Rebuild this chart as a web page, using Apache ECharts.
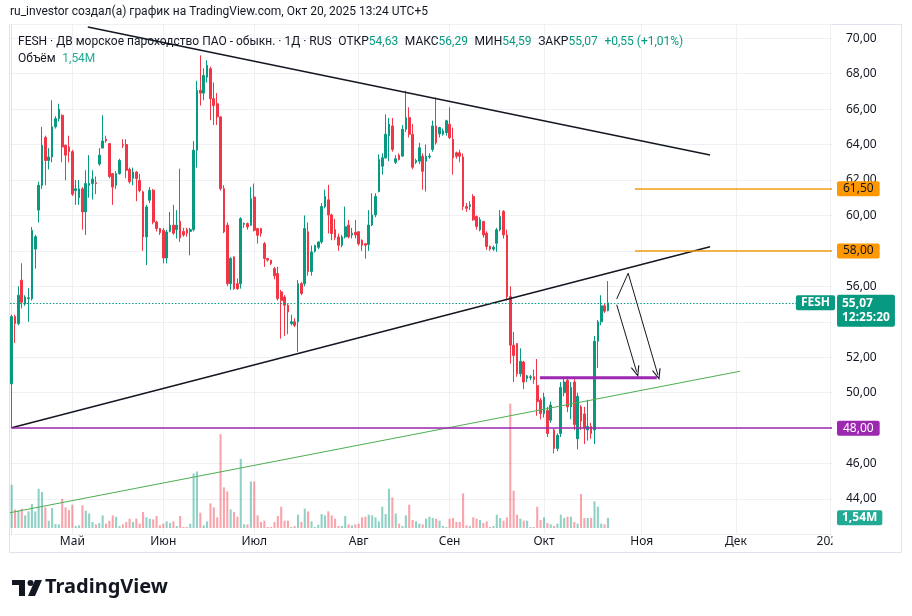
<!DOCTYPE html>
<html>
<head>
<meta charset="utf-8">
<script src="https://cdn.jsdelivr.net/npm/echarts@6/dist/echarts.min.js"></script>
<style>
  html, body { margin: 0; padding: 0; background: #fff; }
  #main { width: 912px; height: 616px; }
</style>
</head>
<body>
<div id="main"></div>
<script>
// свечи FESH, 1Д: [откр, закр, мин, макс]
var ohlc = [
  [50.5,54.3,48.0,54.4],[54.3,53.9,52.8,54.4],[53.9,55.5,53.8,56.0],[56.35,55.1,54.75,57.3],[55.0,55.4,54.9,55.5],
  [55.3,55.35,54.0,55.9],[55.3,59.16,55.2,59.35],[58.1,58.8,57.0,58.9],[60.3,61.7,59.6,61.9],[61.7,63.96,61.5,65.0],
  [64.4,63.1,61.7,64.5],[63.1,63.3,62.6,63.8],[63.3,65.0,63.0,66.5],[65.0,65.46,64.9,65.6],[65.46,66.0,65.3,66.3],
  [65.65,63.86,63.0,65.7],[63.96,63.4,61.98,64.0],[63.86,63.6,63.0,64.5],[63.6,61.2,61.1,63.7],[61.4,61.5,60.6,62.0],
  [61.0,61.5,60.6,62.0],[61.5,60.2,59.2,61.6],[60.2,61.8,58.9,62.55],[61.7,61.8,61.0,63.4],[61.8,62.05,60.9,62.55],
  [61.85,61.8,61.2,62.2],[62.9,63.4,62.8,63.8],[63.8,64.2,63.8,65.65],[64.3,64.2,64.1,64.5],[64.05,62.2,62.1,64.1],
  [62.36,61.6,60.6,62.4],[61.7,62.36,61.5,62.5],[62.36,63.1,62.3,63.2],[64.0,63.95,63.8,64.3],[64.0,62.55,62.1,64.3],
  [62.6,61.9,61.8,62.7],[62.1,62.45,61.7,62.7],[62.45,62.08,60.8,62.5],[61.98,61.4,61.3,62.35],[61.33,58.79,58.0,61.4],
  [58.79,60.48,57.2,60.6],[60.86,61.42,60.7,61.6],[61.42,59.63,59.5,61.5],[59.63,59.26,59.1,59.7],[59.26,59.03,58.9,59.3],
  [59.16,57.6,57.3,59.3],[57.6,59.07,57.3,59.2],[59.1,59.45,59.05,60.2],[59.45,59.0,58.9,60.6],[59.2,59.45,58.7,60.3],
  [59.67,58.73,58.5,62.64],[59.1,58.9,58.8,59.3],[59.2,59.0,58.8,59.3],[59.1,59.2,57.75,59.3],[59.2,63.68,59.1,64.2],
  [63.68,67.06,62.7,67.6],[67.06,66.9,66.2,69.03],[66.9,67.9,66.5,68.3],[67.8,68.47,67.5,68.75],[68.28,66.59,65.37,68.4],
  [66.59,66.2,65.1,67.5],[66.3,65.56,65.1,66.9],[65.56,61.51,61.4,65.6],[61.51,59.07,59.0,61.7],[59.45,56.15,56.0,59.6],
  [56.15,57.57,55.8,57.65],[57.66,55.87,55.8,57.7],[56.15,55.87,55.8,56.45],[56.15,59.82,55.87,59.9],[59.5,59.55,59.3,59.6],
  [59.54,59.35,59.2,59.6],[59.45,60.95,59.4,61.6],[61.04,59.16,59.1,61.8],[59.26,58.88,58.41,59.3],[59.26,58.98,58.8,59.3],
  [58.41,57.57,57.1,58.5],[57.57,57.48,57.4,57.6],[57.47,57.28,57.2,57.5],[57.0,56.6,56.4,57.1],[56.72,55.31,55.2,57.1],
  [55.69,55.2,53.05,55.8],[55.4,54.93,53.2,55.5],[54.93,54.56,53.3,55.0],[53.9,54.0,53.8,54.4],[54.0,53.8,53.7,54.2],
  [54.0,56.15,52.3,56.35],[56.15,55.6,55.5,56.25],[56.15,59.26,56.0,60.0],[59.08,56.84,56.6,59.6],[56.84,57.94,56.6,58.3],
  [57.98,58.3,57.9,58.35],[58.2,58.5,58.1,58.55],[58.5,60.5,58.4,60.7],[60.5,61.07,60.4,61.45],[60.88,60.03,58.98,61.73],
  [60.03,58.98,58.6,60.1],[59.2,58.75,58.6,59.8],[58.79,58.32,58.0,58.98],[58.32,58.79,58.2,58.9],[58.79,59.36,58.7,60.5],
  [59.46,58.79,58.7,59.75],[58.9,59.0,58.7,59.3],[59.05,58.9,58.7,59.75],[59.08,58.4,58.3,59.1],[58.6,58.32,58.0,58.65],
  [58.4,58.32,57.56,58.45],[58.36,59.46,58.0,60.3],[59.46,60.03,59.4,61.25],[60.03,61.07,59.9,61.25],[61.35,63.16,61.3,63.44],
  [62.78,63.25,62.3,63.5],[63.25,64.58,63.2,65.7],[64.5,65.15,63.06,65.5],[65.05,63.72,63.6,65.5],[63.0,63.2,62.9,63.4],
  [63.4,63.15,63.1,63.5],[63.35,64.86,63.3,65.1],[64.86,65.52,64.7,67.04],[65.52,64.58,64.4,66.1],[64.58,62.72,62.6,65.15],
  [63.0,63.1,62.9,63.2],[63.06,63.82,62.9,64.1],[63.34,62.49,61.45,63.5],[63.06,63.34,61.35,64.0],[63.3,63.35,63.2,63.5],
  [63.72,65.05,63.6,65.35],[65.05,64.1,64.0,66.66],[64.6,64.96,64.4,65.0],[64.58,64.77,64.5,64.9],[64.67,65.34,64.5,65.4],
  [65.15,64.39,64.3,66.1],[64.3,63.25,62.3,64.96],[63.53,63.34,63.2,63.6],[63.53,63.34,63.0,63.7],[63.3,60.5,60.3,63.5],
  [60.5,60.4,60.2,60.7],[60.5,60.6,60.3,60.8],[61.07,59.75,59.7,61.2],[59.94,59.38,59.2,60.0],[59.19,59.75,59.1,59.9],
  [59.66,58.9,58.75,59.7],[59.0,58.25,58.06,59.1],[58.25,58.1,58.0,58.3],[58.1,58.2,58.0,58.3],[58.43,59.19,57.95,59.3],
  [59.19,59.94,59.1,60.3],[60.23,58.9,58.7,60.3],[58.9,55.42,55.2,59.2],[55.42,52.68,51.64,56.0],[52.68,52.1,50.6,53.43],
  [52.77,51.07,50.9,52.8],[51.07,51.77,50.9,52.5],[51.73,50.6,50.2,51.8],[50.8,50.95,50.6,51.0],[50.85,50.9,50.7,51.0],
  [50.9,50.75,50.5,51.3],[50.4,49.5,48.7,51.9],[49.58,48.83,48.5,49.7],[48.83,49.75,48.6,50.0],[49.0,47.7,47.5,49.2],
  [48.45,49.3,48.3,49.5],[47.9,46.85,46.57,48.0],[46.85,47.6,46.7,47.7],[47.7,50.3,47.5,50.6],[50.0,50.6,49.8,50.9],
  [50.7,49.2,48.9,50.9],[49.2,50.3,48.5,50.6],[50.6,48.2,47.9,50.8],[47.4,49.8,46.8,50.0],[49.2,48.4,47.9,49.3],
  [48.8,48.0,47.1,49.2],[47.9,48.1,47.3,49.6],[48.1,47.7,47.4,48.3],[47.9,52.9,47.1,53.2],[52.9,54.0,51.4,54.1],
  [54.0,54.9,53.8,55.5],[54.9,54.6,54.5,55.0],[54.63,55.07,54.59,56.29]
];

// объём, млн
var volumes = [
  6.5,2.8,2.6,2.9,1.9,2.5,3.6,2.5,5.9,5.4, 3.1,1.1,3.0,0.6,0.55,4.4,3.1,2.7,3.5,0.3,
  0.4,3.4,2.6,2.2,0.9,0.55,0.75,1.9,0.65,1.1, 1.9,1.7,0.3,0.55,0.9,1.4,0.9,1.4,0.65,2.4,
  1.6,1.4,1.3,1.8,0.4,0.65,1.0,0.75,1.0,0.3, 1.8,0.15,0.15,0.65,8.2,8.5,2.3,0.4,1.0,3.7,
  3.1,1.6,14.1,6.1,5.5,2.8,2.4,1.7,10.4,0.55, 0.55,7.0,7.0,1.9,0.9,1.1,0.15,0.15,0.9,1.8,
  3.2,1.1,1.1,0.15,0.3,2.0,0.9,2.9,2.5,1.0, 0.15,0.5,2.1,1.9,2.5,1.9,1.4,0.3,0.3,1.8,
  0.55,0.4,0.55,0.65,1.6,1.7,2.0,1.9,1.6,1.0, 3.2,2.1,5.9,4.6,2.2,0.65,0.3,1.9,3.5,1.2,
  1.0,0.65,
  0.55,1.4,1.7,1.5,1.4,1.1,0.3,0.15,1.4,1.5, 0.9,0.9,5.2,0.4,0.3,1.6,1.4,1.2,0.75,1.0,
  0.15,0.3,2.0,1.5,1.1,1.6,18.7,5.6,2.0,1.4, 1.1,1.1,0.15,0.15,3.2,1.2,1.6,0.75,0.55,0.3,
  0.65,2.0,1.5,1.7,1.7,0.9,0.65,5.1,1.5,1.5, 1.5,4.0,3.2,0.65,0.55,1.54
];

var SLOTS = 244; // бары + пустое место справа до 2026
var monthLabels = ['Май', 'Июн', 'Июл', 'Авг', 'Сен', 'Окт', 'Ноя', 'Дек', '2026'];
var monthIdx = [18, 45, 72, 103, 130, 158, 187, 215, 243];

// рисунки: [индекс бара, цена]
var trendTop = [[22.6, 70.63], [207.3, 63.41]];
var trendBottom = [[0, 48.02], [207.3, 58.23]];
var greenLine = [[-0.5, 43.23], [216.2, 51.21]];
var zoneLine = [[156.8, 50.84], [191.5, 50.84]];
var arrowUp = [[179.6, 55.29], [183.0, 56.74]];
var arrowA = [[183.0, 56.74], [191.8, 51.01]];
var arrowB = [[179.6, 54.96], [185.5, 51.18]];
var support = 48;
var targets = [61.5, 58];
var targetsFrom = 185.0;
var lastPrice = 55.07;
var lastVolume = 1.54;

var UP = '#089981', DOWN = '#f23645';
var FONT = 'Noto Sans';
var NONE = { color: 'rgba(0,0,0,0)', width: 0 };

var cats = [];
for (var i = 0; i < SLOTS; i++) cats.push(String(i));

function fmt(v) { return v.toFixed(2).replace('.', ','); }
function isMonth(i) { return monthIdx.indexOf(i) >= 0; }

var volData = volumes.map(function (v, i) {
  var up = ohlc[i][1] >= ohlc[i][0];
  return { value: v, itemStyle: { color: up ? 'rgba(8,153,129,0.45)' : 'rgba(242,54,69,0.45)' } };
});

var chevron = 'path://M5,0 L10,10 L8.6,10 L5,2.6 L1.4,10 L0,10 Z';

function levelLabel(bg, fg, text) {
  return {
    show: true, position: 'end', distance: 5, formatter: text,
    backgroundColor: bg, color: fg, padding: [2, 6, 1, 6], borderRadius: 2,
    fontFamily: FONT, fontSize: 12
  };
}

var myChart = echarts.init(document.getElementById('main'), null, { renderer: 'canvas' });

var option = {
  animation: false,
  backgroundColor: '#ffffff',
  textStyle: { fontFamily: FONT },
  grid: [
    { left: 10, right: 80, top: 24, bottom: 81.5 },
    { left: 10, right: 80, top: 395, bottom: 88 }
  ],
  xAxis: [
    {
      type: 'category', gridIndex: 0, data: cats, boundaryGap: true,
      axisLine: { show: false }, axisTick: { show: false }, axisLabel: { show: false },
      splitLine: { show: true, alignWithLabel: true, interval: function (i) { return isMonth(i); },
                   lineStyle: { color: '#eef0f4' } }
    },
    {
      type: 'category', gridIndex: 1, data: cats, boundaryGap: true,
      axisLine: { show: false }, axisTick: { show: false },
      axisLabel: {
        interval: function (i) { return isMonth(i); },
        formatter: function (v, i) { return monthLabels[monthIdx.indexOf(i)]; },
        color: '#131722', fontSize: 12, margin: 8, fontFamily: FONT
      }
    },
    { type: 'value', gridIndex: 0, min: -0.5, max: SLOTS - 0.5, show: false }
  ],
  yAxis: [
    {
      type: 'value', gridIndex: 0, position: 'right', min: 42, max: 70.8, interval: 2,
      axisLine: { show: true, lineStyle: { color: '#e0e3eb' } },
      axisTick: { show: false },
      axisLabel: { showMinLabel: false, showMaxLabel: false, formatter: fmt,
                   color: '#131722', fontSize: 12, margin: 14, fontFamily: FONT },
      splitLine: { lineStyle: { color: '#eef0f4' } }
    },
    { type: 'value', gridIndex: 1, min: 0, max: 20, show: false }
  ],
  series: [
    {
      name: 'Объём', type: 'bar', xAxisIndex: 1, yAxisIndex: 1, data: volData, barWidth: '62%',
      markLine: {
        silent: true, symbol: ['none', 'none'],
        data: [{ yAxis: lastVolume, lineStyle: NONE, label: {
          show: true, position: 'end', distance: 5, formatter: '1,54M',
          backgroundColor: '#22ab94', color: '#fff', fontWeight: 'bold',
          padding: [2, 5, 1, 5], borderRadius: 2, fontFamily: FONT, fontSize: 12 } }]
      }
    },
    {
      name: 'FESH', type: 'candlestick', xAxisIndex: 0, yAxisIndex: 0, data: ohlc, barWidth: '64%',
      itemStyle: { color: UP, color0: DOWN, borderColor: UP, borderColor0: DOWN, borderWidth: 1 }
    },
    {
      type: 'line', xAxisIndex: 2, yAxisIndex: 0, data: greenLine, symbol: 'none',
      lineStyle: { color: '#4caf50', width: 1 }
    },
    {
      type: 'line', xAxisIndex: 2, yAxisIndex: 0, data: trendTop, symbol: 'none',
      lineStyle: { color: '#131722', width: 1.5 }
    },
    {
      type: 'line', xAxisIndex: 2, yAxisIndex: 0, data: trendBottom, symbol: 'none',
      lineStyle: { color: '#131722', width: 1.5 }
    },
    {
      type: 'line', xAxisIndex: 2, yAxisIndex: 0, data: zoneLine, symbol: 'none',
      lineStyle: { color: '#9c27b0', width: 3 }
    },
    {
      type: 'line', xAxisIndex: 2, yAxisIndex: 0, data: arrowUp, symbol: 'none',
      lineStyle: { color: '#131722', width: 1 },
      markLine: {
        silent: true, symbol: ['none', 'none'], label: { show: false },
        data: [
          [{ coord: arrowA[0], symbol: 'none' },
           { coord: arrowA[1], symbol: chevron, symbolSize: [9, 11],
             lineStyle: { color: '#131722', width: 1, type: 'solid' } }],
          [{ coord: arrowB[0], symbol: 'none' },
           { coord: arrowB[1], symbol: chevron, symbolSize: [9, 11],
             lineStyle: { color: '#131722', width: 1, type: 'solid' } }],
          [{ coord: [-0.5, lastPrice], lineStyle: { color: UP, width: 1.2, type: [1.5, 1.8] } },
           { coord: [SLOTS - 0.5, lastPrice] }],
          [{ coord: [0, support], lineStyle: { color: '#9c27b0', width: 1.5, type: 'solid' },
             label: levelLabel('#9c27b0', '#ffffff', fmt(support)) },
           { coord: [SLOTS - 0.5, support] }],
          [{ coord: [targetsFrom, targets[0]], lineStyle: { color: '#f29d12', width: 1.5, type: 'solid' },
             label: levelLabel('#ff9800', '#131722', fmt(targets[0])) },
           { coord: [SLOTS - 0.5, targets[0]] }],
          [{ coord: [targetsFrom, targets[1]], lineStyle: { color: '#f29d12', width: 1.5, type: 'solid' },
             label: levelLabel('#ff9800', '#131722', fmt(targets[1])) },
           { coord: [SLOTS - 0.5, targets[1]] }],
          [{ coord: [-0.5, lastPrice], lineStyle: NONE,
             label: { show: true, position: 'end', distance: 5, offset: [0, 8],
                      formatter: fmt(lastPrice) + '\n12:25:20', backgroundColor: UP, color: '#fff',
                      fontWeight: 'bold', padding: [2, 5, 2, 5], lineHeight: 14, borderRadius: 2,
                      fontFamily: FONT, fontSize: 12 } },
           { coord: [SLOTS - 0.5, lastPrice] }],
          [{ coord: [-0.5, lastPrice], lineStyle: NONE,
             label: { show: true, position: 'insideEnd', distance: -3,
                      formatter: 'FESH', backgroundColor: UP, color: '#fff', fontWeight: 'bold',
                      padding: [2, 5, 1, 5], borderRadius: 2, fontFamily: FONT, fontSize: 12 } },
           { coord: [SLOTS - 0.5, lastPrice] }]
        ]
      }
    }
  ],
  graphic: [
    { type: 'rect', z: 0, silent: true, shape: { x: 9.5, y: 24.5, width: 892, height: 528 },
      style: { fill: 'none', stroke: '#e0e3eb', lineWidth: 1 } },
    { type: 'rect', z: 100, silent: true, shape: { x: 832.5, y: 534, width: 68.5, height: 18 },
      style: { fill: '#ffffff' } },
    { type: 'text', left: 10, top: 6, silent: true,
      style: { text: 'ru_investor создал(а) график на TradingView.com, Окт 20, 2025 13:24 UTC+5',
               fill: '#131722', font: '12px Roboto' } },
    { type: 'text', left: 18, top: 36, silent: true, z: 50,
      style: {
        text: '{d|FESH · ДВ морское пароходство ПАО - обыкн. · 1Д · RUS}  {d|ОТКР}{g|54,63}  {d|МАКС}{g|56,29}  {d|МИН}{g|54,59}  {d|ЗАКР}{g|55,07}  {g|+0,55 (+1,01%)}',
        rich: { d: { fill: '#131722', fontSize: 12, fontFamily: 'Roboto' },
                g: { fill: UP, fontSize: 12, fontFamily: 'Roboto' } }
      } },
    { type: 'text', left: 18, top: 53, silent: true, z: 50,
      style: {
        text: '{d|Объём}  {g|1,54M}',
        rich: { d: { fill: '#131722', fontSize: 12, fontFamily: 'Roboto' },
                g: { fill: '#22ab94', fontSize: 12, fontFamily: 'Roboto' } }
      } },
    { type: 'group', left: 12, top: 577, silent: true, children: [
      { type: 'rect', shape: { x: 0, y: 0, width: 13, height: 5 }, style: { fill: '#131722' } },
      { type: 'rect', shape: { x: 7, y: 0, width: 6, height: 16 }, style: { fill: '#131722' } },
      { type: 'circle', shape: { cx: 18.5, cy: 3, r: 3 }, style: { fill: '#131722' } },
      { type: 'polygon', shape: { points: [[23, 0], [30, 0], [23, 16], [16, 16]] }, style: { fill: '#131722' } },
      { type: 'text', x: 33, y: -3, style: { text: 'TradingView', fill: '#131722',
        font: 'bold 20px "' + FONT + '"' } }
    ] }
  ]
};

myChart.setOption(option);
</script>
</body>
</html>
